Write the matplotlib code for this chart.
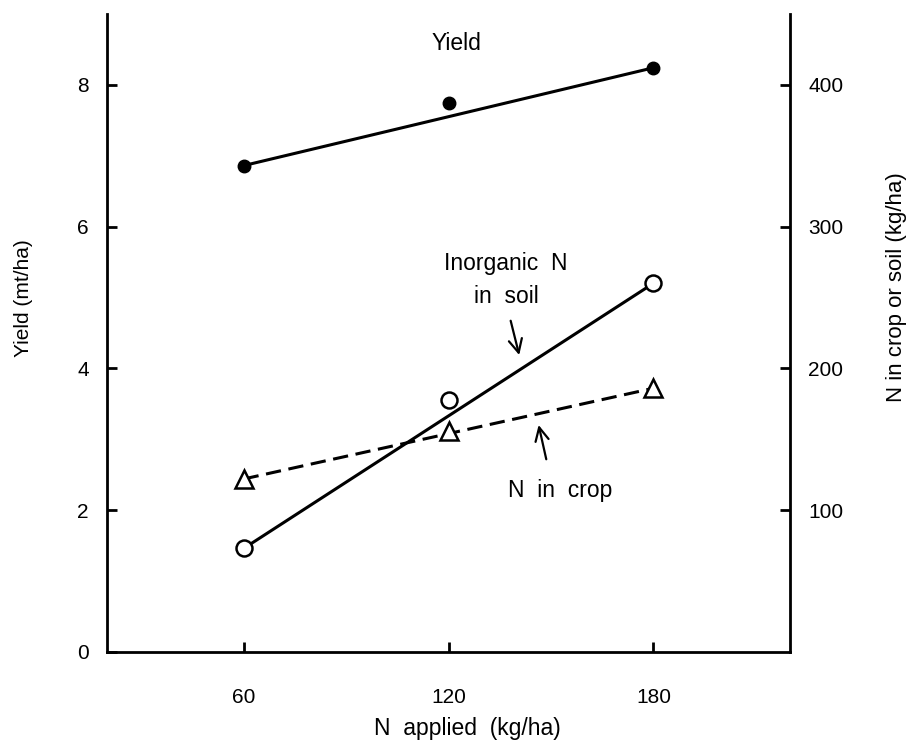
import numpy as np
import matplotlib
matplotlib.use("Agg")
import matplotlib.pyplot as plt

plt.rcParams["font.family"] = ["Liberation Sans", "DejaVu Sans"]

# ==========================
# data
# ==========================
n_applied = np.array([60, 120, 180])
yield_mt = np.array([6.86, 7.75, 8.24])          # left axis, mt/ha
n_soil = np.array([73, 178, 260])                # right axis, kg/ha
n_crop = np.array([122, 156, 186])               # right axis, kg/ha

x_ticks = [60, 120, 180]
yield_ticks = [0, 2, 4, 6, 8]
n_ticks = [100, 200, 300, 400]

LW = 2.2
FS = 15        # tick labels / y labels
FS_TXT = 16.5  # in-plot notes and x label

fig = plt.figure(figsize=(9.11, 7.42), dpi=100)
ax = fig.add_axes([0.1175, 0.1213, 0.7497, 0.86])
ax2 = ax.twinx()

ax.set_xlim(20, 220)
ax.set_ylim(0, 9)
ax2.set_ylim(0, 450)

# trend lines drawn between first and last observations
ax.plot(n_applied[[0, -1]], yield_mt[[0, -1]], color="black", lw=LW)
ax.plot(n_applied, yield_mt, "o", color="black", ms=9)

ax2.plot(n_applied[[0, -1]], n_soil[[0, -1]], color="black", lw=LW)
ax2.plot(n_applied, n_soil, "o", mfc="white", mec="black", mew=1.8, ms=11.5)

ax2.plot(n_applied[[0, -1]], n_crop[[0, -1]], color="black", lw=LW,
         linestyle=(0, (5, 2.5)))
ax2.plot(n_applied, n_crop, "^", mfc="white", mec="black", mew=1.8, ms=12.5)

# spines
for a in (ax, ax2):
    a.spines["top"].set_visible(False)
    for s in a.spines.values():
        s.set_linewidth(2)
ax.spines["right"].set_visible(False)
ax2.spines["left"].set_visible(False)
ax2.spines["bottom"].set_visible(False)

ax.set_xticks(x_ticks)
ax.set_yticks(yield_ticks)
ax2.set_yticks(n_ticks)
ax.tick_params(axis="x", direction="in", length=7, width=2, pad=26, labelsize=FS)
ax.tick_params(axis="y", direction="in", length=7, width=2, pad=13, labelsize=FS)
ax2.tick_params(axis="y", direction="in", length=7, width=2, pad=13, labelsize=FS)

ax.set_xlabel("N  applied  (kg/ha)", fontsize=FS_TXT)
ax.xaxis.set_label_coords(0.528, -0.102)
ax.set_ylabel("Yield (mt/ha)", fontsize=FS)
ax.yaxis.set_label_coords(-0.108, 0.555)
ax2.set_ylabel("N in crop or soil (kg/ha)", fontsize=16)
ax2.yaxis.set_label_coords(1.140, 0.572)

# annotations
ax.text(122.2, 8.58, "Yield", fontsize=FS_TXT, ha="center", va="center")
ax.text(136.8, 5.25, "Inorganic  N\nin  soil", fontsize=FS_TXT, ha="center",
        va="center", linespacing=1.55)
ax.annotate("", xy=(140.9, 4.15), xytext=(138.0, 4.71),
            arrowprops=dict(arrowstyle="->", lw=1.6, color="black",
                            mutation_scale=24))
ax.text(152.6, 2.28, "N  in  crop", fontsize=FS_TXT, ha="center", va="center")
ax.annotate("", xy=(146.2, 3.24), xytext=(148.8, 2.68),
            arrowprops=dict(arrowstyle="->", lw=1.6, color="black",
                            mutation_scale=24))

fig.savefig("out.png", dpi=100)
